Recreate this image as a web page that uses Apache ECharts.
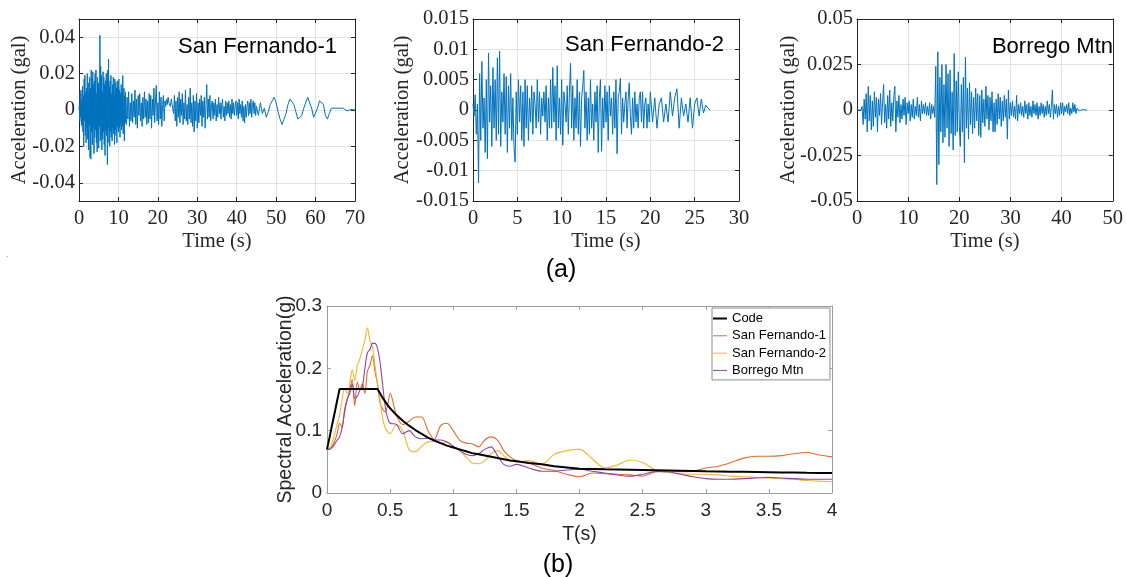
<!DOCTYPE html>
<html><head><meta charset="utf-8">
<script src="https://cdn.jsdelivr.net/npm/echarts@6/dist/echarts.min.js"></script>
<style>html,body{margin:0;padding:0;background:#fff}#c{width:1126px;height:577px}</style>
</head><body><div id="c"></div>
<script>
// ---------- Time histories (values in 1e-3 gal) ----------
// San Fernando-1: segment A dt=0.1 s from 0 s, B dt=0.2 s from 12 s, C dt=0.5 s from 45 s
const sf1A = [0,3,-6,9,-4,11,-8,6,-9,13,
 -12,8,-20,17,-6,19,-14,10,-18,12,
 -10,20,-16,9,-22,15,-8,18,-26,12,
 -27,22,-12,17,-19,21,-10,14,-24,16,
 -15,20,-11,22,-18,9,-23,18,-13,15,
 -21,12,-9,41,-17,24,-14,19,-22,10,
 -16,21,-12,18,-19,14,-25,16,-11,20,
 -14,17,-30,22,-10,28,-18,13,-20,16,
 -12,19,-15,9,-17,14,-10,18,-13,8,
 -19,17,-11,15,-14,12,-18,16,-9,13,
 -12,17,-10,11,-15,9,-8,14,-11,10,
 -9,19,-13,-4,12,-17,8,-7,10,-6];
const sf1B = [-8,7,-5,10,-9,4,-6,9,-7,5,
 -4,11,-8,6,-10,8,-3,9,-6,4,
 -9,7,-5,10,-4,6,-8,5,-7,9,
 -5,8,-10,6,-3,12,-7,5,13.5,-6,
 4,-8,10,-5,7,-9,3,8,-6,5,
 2,6,3,7,4,5,2,6,3,4,
 -2,8,-6,5,-9,7,-4,10,-7,6,
 -3,9,-8,4,-5,11,-6,3,-8,7,
 -5,12,-7,4,-9,8,-12,5,-6,9,
 -10,4,-7,6,-3,8,-9,5,-4,7,
 -10,3,14,-5,6,-4,8,-6,3,5,
 -5,4,-3,6,-6,3,-4,7,-2,4,
 -5,3,6,-4,2,-6,5,-3,4,-2,
 5,-4,3,-5,6,-2,4,-3,2,5,
 -3,4,-5,6,-2,3,-4,5,-6,2,
 -7,3,-4,2,5,-3,4,-2,6,-4,
 3,5,-2,4,-3];
const sf1C = [2,-3,4,-2,1,-4,-1,3,5,7,
 4,-1,-5,-8,-7,-2,3,6,5,3,
 -1,-5,-6,-3,1,4,7,6,1,-4,
 -3,1,5,6,3,-3,-5,-2,1,2,
 1,1.5,1,0.5,1,0,-0.5,0,0.3,0,
 0];
// San Fernando-2: segment A dt=0.125 s from 0 s, B dt=0.25 s from 20 s
const sf2A = [1,-1,2.5,-4,1,-12,6,-5,
 8,-3,2,-7,5,-8,9.4,-2,
 4,-6,7,-3,5,-5,8.6,-4,
 9.7,-6,3,-2,6,-4,5.5,-7,
 4,-3,6,-5,2,-6,-8.6,3,
 -4,5,-2,4,-5,3,-6,5,
 -3,4,-5,2,-2,4,-4,3,
 1,-3,5,-2,3,-4,2,-1,
 3,-2,4,-5,2,-3,5,-3,
 7,-2,4,-5,7.3,-3,2,-4,
 5,-5.8,3,1,-2,4,-4,3,
 7.7,-3,4,-5,2,-3,5,-4,
 3,-6,2,4,6.5,-3,3,-5,
 2,-4,5,-3,1,-5,3,-2,
 4,-7,2,5,-6.8,2,-3,4,
 -2,3,-5,4,-1,2,-4,3,
 -3,5,-7.2,2,3,5.2,-4,2,
 -2,1,3,-3,2,4.5,-1,-4,
 2,-3,3,-2,1,-3,2,3,
 -2,3,-3,1,2,-3,1,-2];
const sf2B = [3,-2,2,-3,1,2,-2,1,
 -2,3,-1,2,3.5,-3,2,-1,
 1,-2,2,-3,1,2,-1,1.8,
 -0.5,0.8,0.3,0];
// Borrego Mtn: dt=0.2 s from 0 s
const bmA = [0,0.5,0,1,0, 2,-8,6,-5,9, -12,13,-6,8,-11, 5,-9,10,-4,7,
 -12,6,-3,9,-8, 4,14,-7,3,-10, 8,-5,11,-9,4, -6,7,13,-12,5,
 -4,8,-7,3,-5, 6,-3,7,-8,4, -2,5,-6,3,-4, 6,-5,2,-3,7,
 -4,3,-6,5,-2, 3,-2,4,-3,2, -3,4,-5,3,-2, 2,-4,24,-41,32,
 -30,18,-12,25,-18, 14,-15,25,-10,20, -20,22,-13,10,-22, 31,-14,16,-12,21,
 -8,-20,14,-12,18, -29,29,-10,12,-16, 15,-8,10,-13,7, -10,12,-6,9,-14,
 8,-15,11,-7,6, -9,13,-5,8,-11, 7,-6,10,-12,4, -12,6,-8,9,-5,
 7,-9,5,-6,8, -4,6,-16,11,-5, 4,-3,5,-4,2, -5,8,-6,3,-2,
 4,-3,2,-4,5, -2,3,-5,4,-3, 2,-4,5,-2,3, -3,4,-5,2,-3,
 4,-2,3,-4,2, -3,5,-2,3,-4, 2,11,-5,3,-2, 3,-4,2,-3,4,
 -2,4,-3,2,-1, 3,-2,4,-3,1, -2,4,-1,3,-2, 1,0.5,-0.5,0.3,0,
 0,0.2,0,0,0, 0];

// ---------- Response spectra (g) ----------
const specT = [0,0.02,0.04,0.06,0.08,0.1,0.12,0.14,0.16,0.18,
 0.2,0.22,0.24,0.26,0.28,0.3,0.32,0.34,0.36,0.38,
 0.4,0.42,0.44,0.46,0.48,0.5,
 0.55,0.6,0.65,0.7,0.75,0.8,0.85,0.9,0.95,1.0,
 1.05,1.1,1.15,1.2,1.25,1.3,1.35,1.4,1.45,1.5,
 1.6,1.7,1.8,1.9,2.0,2.1,2.2,2.3,2.4,2.5,
 2.6,2.7,2.8,2.9,3.0,3.1,3.2,3.3,3.4,3.5,
 3.6,3.7,3.8,3.9,4.0];
const codeSa = [0.070,0.089,0.109,0.128,0.148,0.167,0.167,0.167,0.167,0.167,
 0.167,0.167,0.167,0.167,0.167,0.167,0.167,0.167,0.167,0.167,
 0.167,0.160,0.153,0.147,0.141,0.136,
 0.125,0.116,0.108,0.101,0.095,0.089,0.084,0.080,0.076,0.073,
 0.070,0.067,0.064,0.062,0.060,0.058,0.056,0.054,0.052,0.051,
 0.048,0.046,0.043,0.041,0.039,0.0385,0.038,0.0376,0.0372,0.0368,
 0.0364,0.036,0.0356,0.0352,0.0348,0.0345,0.0342,0.0339,0.0336,0.0333,
 0.033,0.0327,0.0324,0.0322,0.032];
const sf1Sa = [0.070,0.071,0.075,0.083,0.095,0.112,0.105,0.135,0.150,0.165,
 0.182,0.140,0.178,0.165,0.175,0.160,0.195,0.205,0.220,0.195,
 0.175,0.145,0.135,0.130,0.140,0.160,
 0.125,0.110,0.115,0.122,0.122,0.100,0.086,0.108,0.112,0.100,
 0.085,0.080,0.079,0.074,0.085,0.090,0.085,0.068,0.058,0.052,
 0.048,0.040,0.036,0.030,0.026,0.032,0.031,0.030,0.029,0.027,
 0.034,0.036,0.034,0.035,0.040,0.043,0.049,0.056,0.059,0.059,
 0.060,0.063,0.065,0.061,0.058];
const sf2Sa = [0.070,0.072,0.080,0.095,0.110,0.125,0.150,0.168,0.160,0.175,
 0.198,0.180,0.205,0.215,0.230,0.245,0.265,0.245,0.235,0.205,
 0.175,0.150,0.120,0.105,0.098,0.095,
 0.110,0.100,0.070,0.066,0.075,0.082,0.083,0.080,0.082,0.075,
 0.068,0.058,0.048,0.047,0.052,0.063,0.068,0.060,0.052,0.050,
 0.052,0.046,0.062,0.068,0.070,0.055,0.040,0.045,0.053,0.049,
 0.037,0.033,0.031,0.030,0.030,0.029,0.027,0.026,0.025,0.024,
 0.023,0.022,0.020,0.019,0.018];
const bmSa = [0.070,0.070,0.073,0.078,0.085,0.090,0.105,0.130,0.150,0.160,
 0.175,0.152,0.155,0.165,0.170,0.200,0.225,0.230,0.240,0.240,
 0.232,0.210,0.175,0.140,0.120,0.112,
 0.110,0.095,0.100,0.090,0.087,0.088,0.085,0.085,0.082,0.075,
 0.068,0.062,0.060,0.063,0.070,0.074,0.060,0.046,0.043,0.046,
 0.040,0.035,0.035,0.037,0.038,0.035,0.032,0.029,0.027,0.030,
 0.034,0.034,0.030,0.026,0.023,0.022,0.022,0.023,0.024,0.025,
 0.024,0.023,0.022,0.022,0.022];

const recordNames = ['San Fernando-1','San Fernando-2','Borrego Mtn'];
const specNames = ['Code','San Fernando-1','San Fernando-2','Borrego Mtn'];

// ---------- helpers ----------
function toPairs(segs){
  const out=[];
  segs.forEach(([t0,dt,arr])=>arr.forEach((v,i)=>out.push([+(t0+i*dt).toFixed(4), v/1000])));
  return out;
}
const zipT = arr => arr.map((v,i)=>[specT[i], v]);

const SERIF='Liberation Serif', SANS='Liberation Sans';
const AX='#262626', GRIDC='#e2e2e2', SPC='#9e9e9e';
const FS=20.5;

function timeAxes(gi,max,interval){
  const base={type:'value',gridIndex:gi,min:0,max,interval,
    axisLine:{show:true,onZero:false,lineStyle:{color:AX,width:1}},
    axisTick:{show:true,inside:true,length:4,lineStyle:{color:AX}}};
  return [
    Object.assign({},base,{position:'bottom',
      axisLabel:{color:AX,fontFamily:SERIF,fontSize:FS,margin:7},
      splitLine:{show:true,lineStyle:{color:GRIDC}},
      name:'Time (s)',nameLocation:'middle',nameGap:30,nameMoveOverlap:false,
      nameTextStyle:{color:AX,fontFamily:SERIF,fontSize:FS}}),
    Object.assign({},base,{position:'top',axisLabel:{show:false},splitLine:{show:false}})
  ];
}
function accAxes(gi,lim,scaleOpt,hideEnds,nameGap){
  const base=Object.assign({type:'value',gridIndex:gi,min:-lim,max:lim,
    axisLine:{show:true,onZero:false,lineStyle:{color:AX,width:1}},
    axisTick:{show:true,inside:true,length:4,lineStyle:{color:AX}}},scaleOpt);
  return [
    Object.assign({},base,{position:'left',
      axisLabel:{color:AX,fontFamily:SERIF,fontSize:FS,margin:4,
        showMinLabel:!hideEnds,showMaxLabel:!hideEnds},
      splitLine:{show:true,lineStyle:{color:GRIDC}},
      name:'Acceleration (gal)',nameLocation:'middle',nameGap,nameMoveOverlap:false,
      nameTextStyle:{color:AX,fontFamily:SERIF,fontSize:FS}}),
    Object.assign({},base,{position:'right',axisLabel:{show:false},splitLine:{show:false}})
  ];
}
function specAxesX(){
  const base={type:'value',gridIndex:3,min:0,max:4,interval:0.5,
    axisLine:{show:true,onZero:false,lineStyle:{color:SPC}},
    axisTick:{show:true,inside:true,length:4,lineStyle:{color:SPC}},splitLine:{show:false}};
  return [
    Object.assign({},base,{position:'bottom',
      axisLabel:{color:AX,fontFamily:SANS,fontSize:19,margin:8},
      name:'T(s)',nameLocation:'middle',nameGap:32,nameMoveOverlap:false,
      nameTextStyle:{color:AX,fontFamily:SANS,fontSize:19.5}}),
    Object.assign({},base,{position:'top',axisLabel:{show:false}})
  ];
}
function specAxesY(){
  const base={type:'value',gridIndex:3,min:0,max:0.3,interval:0.1,
    axisLine:{show:true,onZero:false,lineStyle:{color:SPC}},
    axisTick:{show:true,inside:true,length:4,lineStyle:{color:SPC}},splitLine:{show:false}};
  return [
    Object.assign({},base,{position:'left',
      axisLabel:{color:AX,fontFamily:SANS,fontSize:19,margin:5},
      name:'Spectral Acceleration(g)',nameLocation:'middle',nameGap:31,nameMoveOverlap:false,
      nameTextStyle:{color:AX,fontFamily:SANS,fontSize:19.5}}),
    Object.assign({},base,{position:'right',axisLabel:{show:false}})
  ];
}

const BLUE='#0072BD';
const specColors=['#000000','#E3692F','#F2B72A','#8E45A9'];
const thinIcon='path://M0,0M14,10M0,4.5L14,4.5L14,5.5L0,5.5Z';
const thickIcon='path://M0,0M14,10M0,4L14,4L14,6L0,6Z';

const tsLine=(xi,data)=>({type:'line',xAxisIndex:xi,yAxisIndex:xi,data,symbol:'none',showSymbol:false,
  lineStyle:{color:BLUE,width:1},itemStyle:{color:BLUE},silent:true,animation:false,z:2});

const txt=(text,x,y,size,align)=>({type:'text',x,y,z:100,zlevel:0,
  style:{text,fontFamily:SANS,fontSize:size,fill:'#000',align,verticalAlign:'middle',textAlign:align,textVerticalAlign:'middle'}});

const option={
  animation:false,
  backgroundColor:'#ffffff',
  grid:[
    {left:79,top:19,width:276,height:182},
    {left:473,top:19,width:266,height:182},
    {left:857,top:19,width:266,height:182},
    {left:327,top:306,width:505,height:187}
  ],
  xAxis:[...timeAxes(0,70,10),...timeAxes(1,30,5),...timeAxes(2,50,10),...specAxesX()],
  yAxis:[...accAxes(0,0.05,{splitNumber:5},true,49),
         ...accAxes(1,0.015,{interval:0.005},false,60),
         ...accAxes(2,0.05,{interval:0.025},false,58),
         ...specAxesY()],
  legend:{
    orient:'vertical',left:712,top:308,
    backgroundColor:'#ffffff',borderColor:'#8c8c8c',borderWidth:1,
    padding:[3,4,2,1],itemGap:2.3,itemWidth:14,itemHeight:10,
    itemStyle:{borderWidth:0},
    textStyle:{color:'#000',fontFamily:SANS,fontSize:13,lineHeight:15},
    data:specNames.map((n,i)=>({name:n,icon:i===0?thickIcon:thinIcon,itemStyle:{color:specColors[i],borderWidth:0}})),
    selectedMode:false
  },
  series:[
    tsLine(0,toPairs([[0,0.1,sf1A],[12,0.2,sf1B],[45,0.5,sf1C]])),
    tsLine(2,toPairs([[0,0.125,sf2A],[20,0.25,sf2B]])),
    tsLine(4,toPairs([[0,0.2,bmA]])),
    {name:specNames[1],type:'line',xAxisIndex:6,yAxisIndex:6,data:zipT(sf1Sa),symbol:'none',smooth:0.3,
      lineStyle:{color:specColors[1],width:1.1},itemStyle:{color:specColors[1]},z:3},
    {name:specNames[2],type:'line',xAxisIndex:6,yAxisIndex:6,data:zipT(sf2Sa),symbol:'none',smooth:0.3,
      lineStyle:{color:specColors[2],width:1.1},itemStyle:{color:specColors[2]},z:4},
    {name:specNames[3],type:'line',xAxisIndex:6,yAxisIndex:6,data:zipT(bmSa),symbol:'none',smooth:0.3,
      lineStyle:{color:specColors[3],width:1.1},itemStyle:{color:specColors[3]},z:5},
    {name:specNames[0],type:'line',xAxisIndex:6,yAxisIndex:6,data:zipT(codeSa),symbol:'none',
      lineStyle:{color:specColors[0],width:2},itemStyle:{color:specColors[0]},z:6}
  ],
  graphic:{elements:[
    txt(recordNames[0],337,47,22,'right'),
    txt(recordNames[1],724,45,22,'right'),
    txt(recordNames[2],1113,47,22,'right'),
    txt('(a)',561,270,25,'center'),
    txt('(b)',558,565,25,'center'),
    {type:'text',x:6,y:250,z:100,style:{text:'.',fontFamily:SANS,fontSize:9,fill:'#888'}}
  ]}
};
const chart=echarts.init(document.getElementById('c'),null,{renderer:'canvas'});
chart.setOption(option);
</script></body></html>
